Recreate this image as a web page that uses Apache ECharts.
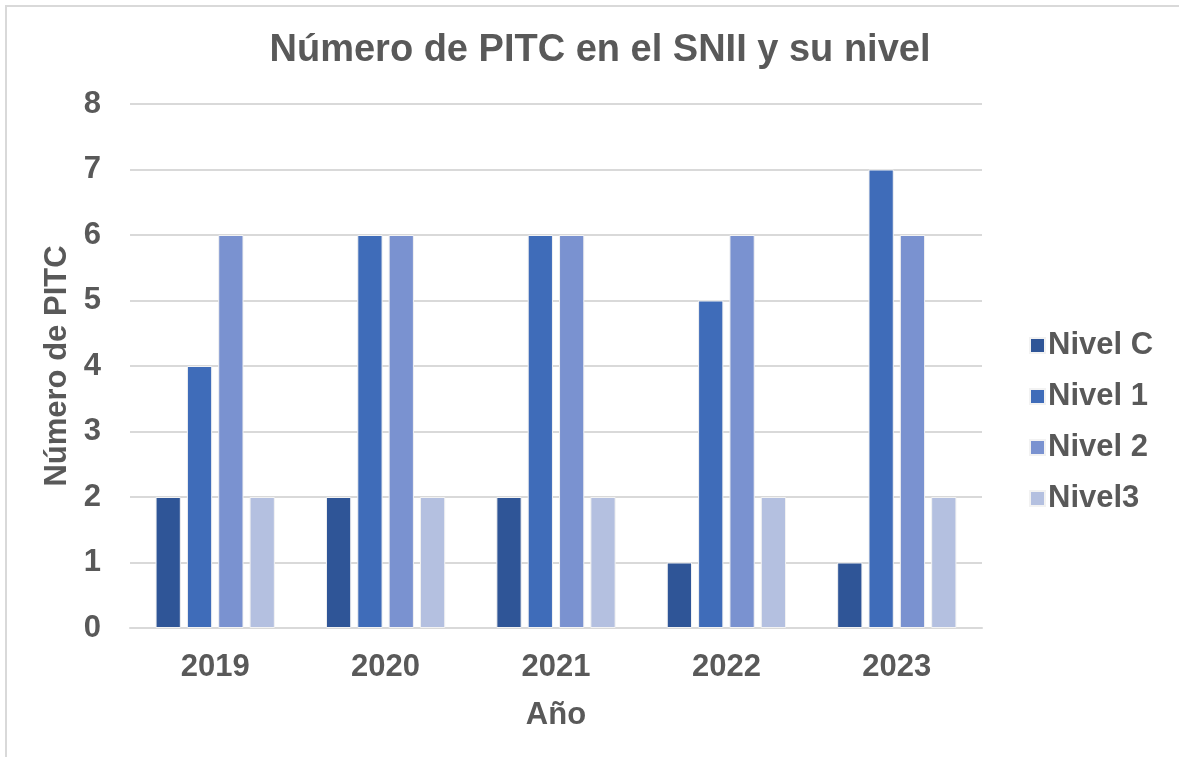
<!DOCTYPE html>
<html>
<head>
<meta charset="utf-8">
<script src="https://cdn.jsdelivr.net/npm/echarts@6/dist/echarts.min.js"></script>
<style>
  html, body { margin: 0; padding: 0; background: #fff; overflow: hidden; }
  #frame { position: absolute; left: 5px; top: 5px; width: 1300px; height: 900px; border: 2px solid #d9d9d9; box-sizing: border-box; }
  #chart { position: absolute; left: 0; top: 0; width: 1179px; height: 757px; }
</style>
</head>
<body>
<div id="frame"></div>
<div id="chart"></div>
<script>
const years = ['2019', '2020', '2021', '2022', '2023']
const seriesNames = ['Nivel C', 'Nivel 1', 'Nivel 2', 'Nivel3']
const nivelC = [2, 2, 2, 1, 1]
const nivel1 = [4, 6, 6, 5, 7]
const nivel2 = [6, 6, 6, 6, 6]
const nivel3 = [2, 2, 2, 2, 2]
const colors = ['#2F5597', '#3F6CB9', '#7A92D0', '#B4C0E0']

const txt = '#595959'
const font = 'Liberation Sans, Arial, sans-serif'
const chart = echarts.init(document.getElementById('chart'))

const values = [nivelC, nivel1, nivel2, nivel3]

chart.setOption({
  animation: false,
  title: {
    text: 'Número de PITC en el SNII y su nivel',
    left: 595,
    textAlign: 'center',
    top: 27,
    textStyle: { color: txt, fontFamily: font, fontWeight: 'bold', fontSize: 38 }
  },
  legend: {
    orient: 'vertical',
    left: 1024,
    top: 325,
    itemWidth: 15,
    itemHeight: 15,
    itemGap: 20,
    icon: 'rect',
    data: seriesNames,
    textStyle: { color: txt, fontFamily: font, fontWeight: 'bold', fontSize: 31, padding: [0, 0, 0, -2] }
  },
  grid: { left: 130, right: 197, top: 104, bottom: 129 },
  xAxis: {
    type: 'category',
    data: years,
    name: 'Año',
    nameLocation: 'middle',
    nameGap: 72,
    nameTextStyle: { color: txt, fontFamily: font, fontWeight: 'bold', fontSize: 31 },
    axisLine: { lineStyle: { color: '#d9d9d9', width: 2 } },
    axisTick: { show: false },
    axisLabel: { color: txt, fontFamily: font, fontWeight: 'bold', fontSize: 31, margin: 24 }
  },
  yAxis: {
    type: 'value',
    min: 0,
    max: 8,
    interval: 1,
    name: 'Número de PITC',
    nameLocation: 'middle',
    nameGap: 50,
    nameTextStyle: { color: txt, fontFamily: font, fontWeight: 'bold', fontSize: 31 },
    axisLine: { show: false },
    axisTick: { show: false },
    axisLabel: { color: txt, fontFamily: font, fontWeight: 'bold', fontSize: 31, margin: 29 },
    splitLine: { lineStyle: { color: '#d9d9d9', width: 2 } }
  },
  series: seriesNames.map((name, i) => ({
    name,
    type: 'bar',
    data: values[i],
    barGap: '24%',
    barCategoryGap: '30%',
    itemStyle: { color: colors[i], borderColor: '#f2f2f2', borderWidth: 1 }
  }))
})
</script>
</body>
</html>
